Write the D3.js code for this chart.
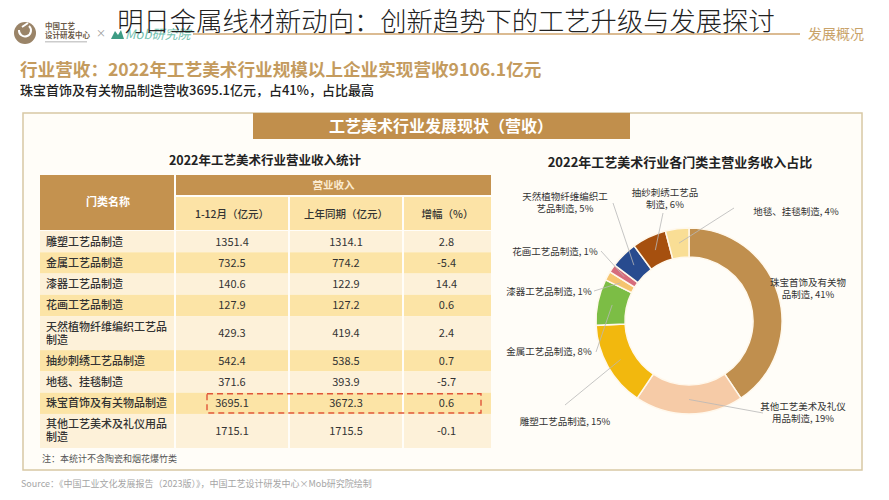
<!DOCTYPE html>
<html><head><meta charset="utf-8">
<script src="https://cdn.jsdelivr.net/npm/d3@7"></script>
<style>
html,body{margin:0;padding:0;background:#fff;}
svg{display:block;font-family:"Noto Sans CJK SC","Noto Sans",sans-serif;}
</style></head>
<body>
<svg id="c" width="889" height="500"></svg>
<script>
// ---------- data ----------
const categories = ['雕塑工艺品制造','金属工艺品制造','漆器工艺品制造','花画工艺品制造','天然植物纤维编织工艺品制造','抽纱刺绣工艺品制造','地毯、挂毯制造','珠宝首饰及有关物品制造','其他工艺美术及礼仪用品制造'];
const revenue2022 = [1351.4, 732.5, 140.6, 127.9, 429.3, 542.4, 371.6, 3695.1, 1715.1];
const revenuePrev = [1314.1, 774.2, 122.9, 127.2, 419.4, 538.5, 393.9, 3672.3, 1715.5];
const growthPct  = ['2.8', '-5.4', '14.4', '0.6', '2.4', '0.7', '-5.7', '0.6', '-0.1'];
const columnHeaders = ['1-12月（亿元）', '上年同期（亿元）', '增幅（%）'];
const pieOrder = ['珠宝首饰及有关物品制造','其他工艺美术及礼仪用品制造','雕塑工艺品制造','金属工艺品制造','漆器工艺品制造','花画工艺品制造','天然植物纤维编织工艺品制造','抽纱刺绣工艺品制造','地毯、挂毯制造'];
const pieShareLabels = [41, 19, 15, 8, 1, 1, 5, 6, 4];
const pieColors = ['#C08F4E','#F6CBA7','#F2B80E','#7CBD45','#F5C46E','#D66C7C','#284B8F','#A6500F','#F9DE95'];
const highlightCategory = '珠宝首饰及有关物品制造';

// ---------- layout helpers ----------
const svg = d3.select('#c');
const TAN = '#C4924F';

// Title area
svg.append('line').attr('x1',193).attr('x2',800).attr('y1',34).attr('y2',34)
  .attr('stroke','#CFA56E').attr('stroke-width',1.5);
// logos
const lg = svg.append('g');
lg.append('circle').attr('cx',25).attr('cy',33).attr('r',11).attr('fill','#9A8468');
lg.append('path').attr('d','M19,30 a6,6 0 1,0 10,-4 M22,27 l6,-4').attr('fill','none').attr('stroke','#fff').attr('stroke-width',2);
lg.append('text').attr('x',45).attr('y',29).attr('font-size',7.5).attr('font-weight',700).attr('fill','#6b5a48').text('中国工艺');
lg.append('text').attr('x',45).attr('y',38).attr('font-size',7.5).attr('font-weight',700).attr('fill','#6b5a48').text('设计研发中心');
lg.append('rect').attr('x',45).attr('y',41).attr('width',42).attr('height',1.5).attr('fill','#ccc');
lg.append('text').attr('x',96).attr('y',37).attr('font-size',10).attr('fill','#999').text('×');
lg.append('path').attr('d','M111,39 L115,31 L118,35 L121,30 L124,39 Z').attr('fill','#3E9C84');
lg.append('text').attr('x',125).attr('y',39).attr('font-size',13).attr('font-style','italic').attr('fill','#73C2B0').text('Mob研究院');

svg.append('text').attr('x',446).attr('y',31).attr('text-anchor','middle')
  .attr('font-size',26.3).attr('font-weight',300).attr('fill','#222')
  .text('明日金属线材新动向：创新趋势下的工艺升级与发展探讨');
svg.append('text').attr('x',808).attr('y',39).attr('font-size',14).attr('fill','#C9A36A').text('发展概况');

svg.append('text').attr('x',20).attr('y',76).attr('font-size',17.6).attr('font-weight',700).attr('fill','#C49B5E')
  .text('行业营收：2022年工艺美术行业规模以上企业实现营收9106.1亿元');
svg.append('text').attr('x',20).attr('y',95).attr('font-size',13).attr('font-weight',500).attr('fill','#222')
  .text('珠宝首饰及有关物品制造营收3695.1亿元，占41%，占比最高');

// Outer panel
svg.append('rect').attr('x',23).attr('y',113).attr('width',839).attr('height',357)
  .attr('fill','#FFFDF8').attr('stroke','#D8C8A4').attr('stroke-width',1.5);
svg.append('rect').attr('x',253).attr('y',113).attr('width',377).attr('height',26).attr('fill','#C18F4C');
svg.append('text').attr('x',441).attr('y',132).attr('text-anchor','middle').attr('font-size',16).attr('font-weight',700)
  .attr('fill','#fff').text('工艺美术行业发展现状（营收）');

// ---------- table ----------
svg.append('text').attr('x',265).attr('y',165).attr('text-anchor','middle').attr('font-size',12.5).attr('font-weight',700)
  .attr('fill','#222').text('2022年工艺美术行业营业收入统计');

const colEdges = [40, 176, 290, 404, 491];
const gap = 2;
svg.append('rect').attr('x',colEdges[0]).attr('y',175).attr('width',colEdges[1]-colEdges[0]-gap).attr('height',55).attr('fill',TAN);
svg.append('text').attr('x',(colEdges[0]+colEdges[1])/2).attr('y',206).attr('text-anchor','middle').attr('font-size',11)
  .attr('font-weight',700).attr('fill','#fff').text('门类名称');
svg.append('rect').attr('x',colEdges[1]).attr('y',175).attr('width',colEdges[4]-colEdges[1]).attr('height',20).attr('fill',TAN);
svg.append('text').attr('x',(colEdges[1]+colEdges[4])/2).attr('y',189).attr('text-anchor','middle').attr('font-size',10.5)
  .attr('font-weight',700).attr('fill','#FBEBD0').text('营业收入');
columnHeaders.forEach((h,i)=>{
  const x0 = colEdges[i+1], x1 = colEdges[i+2] - (i<2?gap:0);
  svg.append('rect').attr('x',x0).attr('y',197).attr('width',x1-x0).attr('height',33).attr('fill','#FCE3A6');
  svg.append('text').attr('x',(x0+x1)/2).attr('y',218).attr('text-anchor','middle').attr('font-size',10.5)
    .attr('font-weight',500).attr('fill','#333').text(h);
});

const wrapAt = 11;
const rowLines = categories.map(c => c.length > wrapAt ? [c.slice(0,wrapAt), c.slice(wrapAt)] : [c]);
const rowUnits = rowLines.map(l => l.length > 1 ? 1.6 : 1);
const cum = [0]; rowUnits.forEach(u => cum.push(cum[cum.length-1]+u));
const yRow = d3.scaleLinear().domain([0, cum[cum.length-1]]).range([231, 448]);

const rows = svg.append('g');
categories.forEach((c,i)=>{
  const y0 = yRow(cum[i]), y1 = yRow(cum[i+1]);
  const fill = i % 2 === 0 ? '#FDF1D9' : '#FCE4A6';
  for (let k=0;k<4;k++){
    const x0 = colEdges[k], x1 = colEdges[k+1] - (k<3?gap:0);
    rows.append('rect').attr('x',x0).attr('y',y0).attr('width',x1-x0).attr('height',y1-y0).attr('fill',fill);
  }
  const lines = rowLines[i];
  const cy = (y0+y1)/2;
  lines.forEach((t,j)=>{
    rows.append('text').attr('x',46).attr('y',cy + 4 + (j - (lines.length-1)/2)*13)
      .attr('font-size',11).attr('font-weight',500).attr('fill','#333').text(t);
  });
  const vals = [revenue2022[i].toFixed(1), revenuePrev[i].toFixed(1), growthPct[i]];
  vals.forEach((v,k)=>{
    rows.append('text').attr('x',(colEdges[k+1]+colEdges[k+2]-gap)/2).attr('y',cy+4).attr('text-anchor','middle')
      .attr('font-size',11).attr('fill','#333').text(v);
  });
  if (c === highlightCategory){
    rows.append('rect').attr('x',207).attr('y',y0+1).attr('width',274).attr('height',y1-y0-2)
      .attr('fill','none').attr('stroke','#E0553A').attr('stroke-width',1.4).attr('stroke-dasharray','6,4');
  }
});
svg.append('text').attr('x',42).attr('y',462).attr('font-size',9).attr('fill','#555').text('注：本统计不含陶瓷和烟花爆竹类');

// ---------- donut ----------
svg.append('text').attr('x',680).attr('y',167).attr('text-anchor','middle').attr('font-size',13).attr('font-weight',700)
  .attr('fill','#222').text('2022年工艺美术行业各门类主营业务收入占比');

const pieData = pieOrder.map((name,i)=>({name, value: revenue2022[categories.indexOf(name)], share: pieShareLabels[i], color: pieColors[i]}));
const cx = 689, cy = 321, rOut = 93, rIn = 64;
const pie = d3.pie().sort(null).value(d=>d.value);
const arc = d3.arc().innerRadius(rIn).outerRadius(rOut);
const midArc = d3.arc().innerRadius((rIn+rOut)/2).outerRadius((rIn+rOut)/2);
const arcs = pie(pieData);
const pg = svg.append('g').attr('transform',`translate(${cx},${cy})`);
pg.selectAll('path').data(arcs).join('path').attr('d',arc).attr('fill',d=>d.data.color)
  .attr('stroke','#FFF8EC').attr('stroke-width',1.5);

const labelLayout = {
  '珠宝首饰及有关物品制造': {x:808, y:286, wrap:8, line:null},
  '其他工艺美术及礼仪用品制造': {x:803, y:410, wrap:9, line:[763,413]},
  '雕塑工艺品制造': {x:565, y:425, wrap:99, line:[565,405]},
  '金属工艺品制造': {x:549, y:355, wrap:99, line:[596,352]},
  '漆器工艺品制造': {x:549, y:295, wrap:99, line:[594,291]},
  '花画工艺品制造': {x:555, y:255, wrap:99, line:[601,251]},
  '天然植物纤维编织工艺品制造': {x:565, y:200, wrap:9, line:[613,203]},
  '抽纱刺绣工艺品制造': {x:665, y:196, wrap:7, line:[663,213]},
  '地毯、挂毯制造': {x:796, y:215, wrap:99, line:[734,208]}
};
const lab = svg.append('g');
arcs.forEach(a=>{
  const L = labelLayout[a.data.name];
  const full = a.data.name + ', ' + a.data.share + '%';
  const lines = full.length > L.wrap ? [full.slice(0,L.wrap), full.slice(L.wrap)] : [full];
  if (L.line){
    const c = midArc.centroid(a);
    lab.append('line').attr('x1',L.line[0]).attr('y1',L.line[1]).attr('x2',cx+c[0]).attr('y2',cy+c[1])
      .attr('stroke','#B8B8B8').attr('stroke-width',0.8);
  }
  lines.forEach((t,j)=>{
    lab.append('text').attr('x',L.x).attr('y',L.y + j*12).attr('text-anchor','middle')
      .attr('font-size',9.5).attr('fill','#333').text(t);
  });
});

svg.append('text').attr('x',21).attr('y',487).attr('font-size',9).attr('fill','#A5A5A5')
  .text('Source：《中国工业文化发展报告（2023版）》，中国工艺设计研发中心×Mob研究院绘制');
</script>
</body></html>
